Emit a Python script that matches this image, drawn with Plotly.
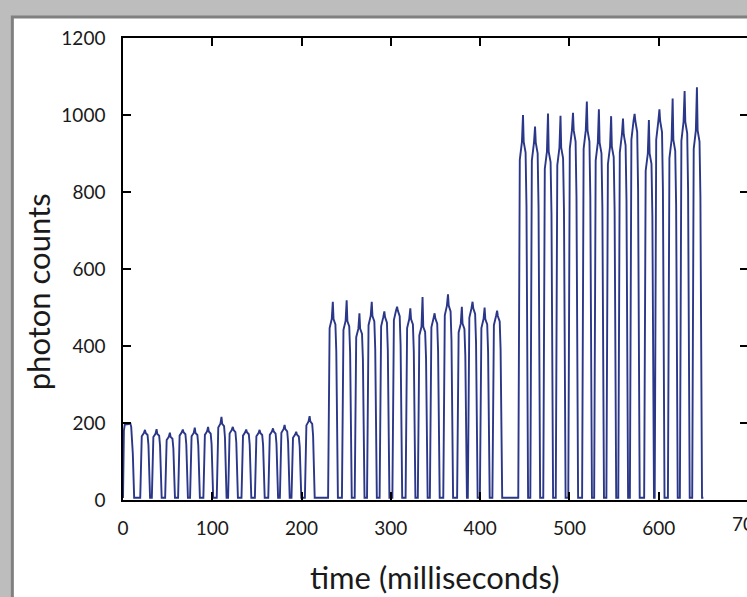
import plotly.graph_objects as go

# ---- data (time in ms, photon counts) ----
BASE = 6  # floor level between pulses

first_pulse_t = [0.0, 1.0, 2.0, 6.5, 8.0, 9.2, 11.0, 12.5]
first_pulse_v = [5, 180, 196, 197, 201, 190, 120, 6]

seg1_peak_t = [24.6, 37.6, 52.5, 67.0, 80.4, 95.3, 110.3, 123.0, 138.0, 153.0, 168.0, 181.0, 194.0, 209.0]
seg1_peak_v = [182, 184, 175, 183, 188, 190, 216, 190, 183, 182, 186, 195, 177, 218]
seg1_shoulder = [174, 172, 164, 176, 174, 178, 198, 182, 176, 174, 178, 184, 170, 204]

seg2_peak_t = [235.0, 250.5, 264.8, 278.6, 292.7, 307.0, 321.8, 335.5, 349.0, 364.0, 379.5, 391.5, 405.0, 419.0]
seg2_peak_v = [515, 519, 485, 515, 490, 502, 498, 527, 485, 534, 502, 515, 500, 492]
seg2_shoulder = [470, 465, 445, 478, 475, 492, 470, 450, 472, 505, 458, 498, 470, 478]

seg3_peak_t = [448.0, 461.5, 476.0, 490.0, 504.0, 519.5, 533.0, 546.7, 560.0, 573.0, 589.0, 600.8, 615.6, 629.0, 642.8]
seg3_peak_v = [1000, 970, 1004, 998, 1006, 1035, 1015, 997, 991, 1003, 987, 1015, 1043, 1062, 1072]
seg3_shoulder = [930, 928, 905, 915, 960, 960, 928, 918, 950, 985, 900, 985, 935, 982, 960]

end_t = 650.0

x_ticks = [0, 100, 200, 300, 400, 500, 600, 700]
y_ticks = [0, 200, 400, 600, 800, 1000, 1200]

# pulse outline relative to each peak: offsets (ms) and fraction of shoulder level
OFFS = [-5.3, -4.5, -3.6, -1.2, 0.0, 0.8, 2.9, 3.9, 4.9, 5.7]
FRAC = [0.0, 0.72, 0.95, 1.0, None, 1.0, 0.97, 0.82, 0.12, 0.0]


def train(peak_t, peak_v, shoulder):
    xs, ys = [], []
    for t, p, s in zip(peak_t, peak_v, shoulder):
        xs += [t + o for o in OFFS]
        ys += [p if f is None else max(BASE, f * s) for f in FRAC]
    return xs, ys


tx = list(first_pulse_t)
ty = list(first_pulse_v)
for seg in [(seg1_peak_t, seg1_peak_v, seg1_shoulder),
            (seg2_peak_t, seg2_peak_v, seg2_shoulder),
            (seg3_peak_t, seg3_peak_v, seg3_shoulder)]:
    a, b = train(*seg)
    tx += a
    ty += b
tx.append(end_t)
ty.append(BASE)

# ---- layout geometry (figure slightly wider than the window: the right
# edge of the chart is cropped in the reference) ----
W, H = 750, 597
L, R, T, B = 123, 0, 38, 97
PW, PH = W - L - R, H - T - B


def px(p):
    return (p - L) / PW


def py(p):
    return (H - B - p) / PH


FONT = "Lato, 'Open Sans', sans-serif"
TXT = "#1a1a1a"

fig = go.Figure()
fig.add_trace(go.Scatter(x=tx, y=ty, mode="lines",
                         line=dict(color="#2b3788", width=1.9),
                         hoverinfo="skip", showlegend=False))

axis_common = dict(showgrid=False, zeroline=False, showline=True, linecolor="black",
                   linewidth=1.5, mirror="ticks", ticks="inside", ticklen=8,
                   tickwidth=1.5, tickcolor="black",
                   tickfont=dict(family=FONT, size=19, color=TXT))

fig.update_xaxes(range=[0, 700], tickvals=x_ticks[:-1],
                 ticklabelstandoff=10, **axis_common)
fig.update_yaxes(range=[0, 1200], tickvals=y_ticks, ticklabelstandoff=12,
                 **axis_common)

# frame (gray shadow border of the picture)
fig.add_shape(type="rect", xref="paper", yref="paper", layer="below",
              x0=px(12), x1=px(W + 20), y0=py(H + 20), y1=py(17),
              fillcolor="white", line=dict(color="#808080", width=3))

# last x tick label, cropped by the picture edge as in the reference
fig.add_annotation(text=str(x_ticks[-1]), xref="x", yref="paper",
                   x=x_ticks[-1], y=py(523), xanchor="center", yanchor="middle",
                   showarrow=False, font=dict(family=FONT, size=19, color=TXT))

fig.add_annotation(text="time (milliseconds)", xref="paper", yref="paper",
                   x=px(436), y=py(577), xanchor="center", yanchor="middle",
                   showarrow=False, font=dict(family=FONT, size=31, color=TXT))
fig.add_annotation(text="photon counts", xref="paper", yref="paper",
                   x=px(38), y=py(292), xanchor="center", yanchor="middle",
                   textangle=-90, showarrow=False,
                   font=dict(family=FONT, size=31, color=TXT))

fig.update_layout(width=W, height=H, margin=dict(l=L, r=R, t=T, b=B),
                  paper_bgcolor="#bdbdbd", plot_bgcolor="rgba(0,0,0,0)",
                  font=dict(family=FONT))

fig.write_html("out.html", config={"displayModeBar": False},
               post_script="document.body.style.margin='0';"
                           "document.body.style.overflow='hidden';")
